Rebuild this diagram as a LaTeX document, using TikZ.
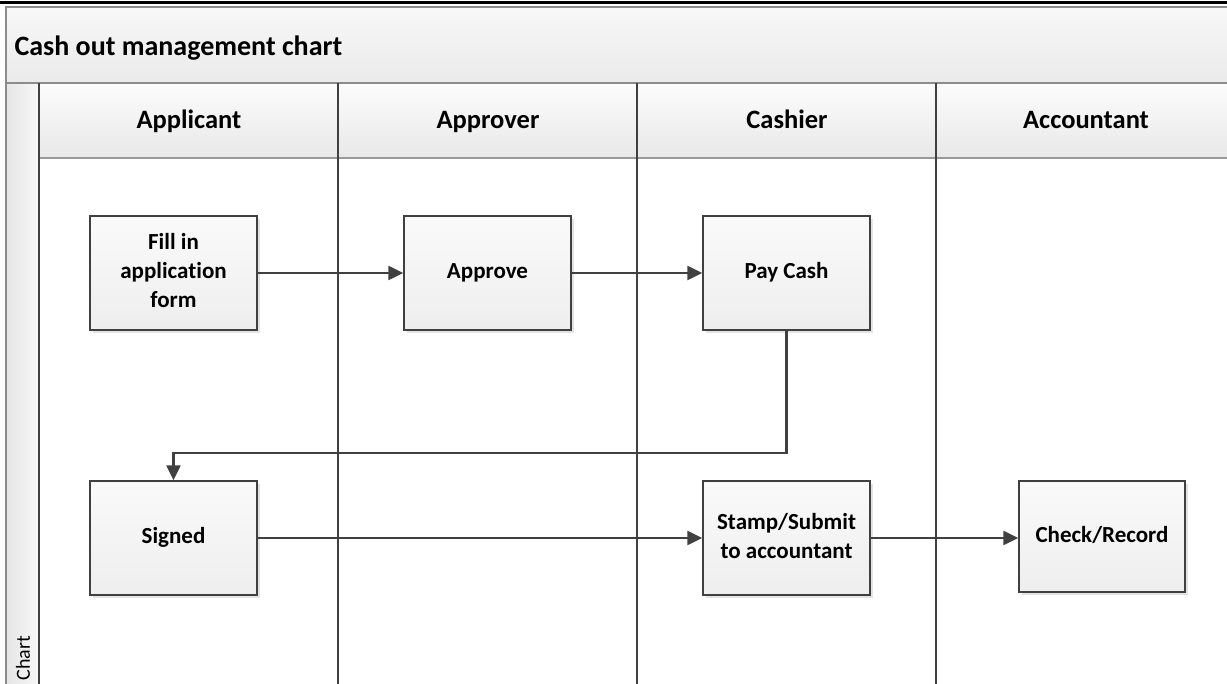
\documentclass[tikz,border=0pt]{standalone}
\usepackage{fontspec}
\setmainfont{Carlito}[Ligatures=NoCommon]
\usetikzlibrary{arrows.meta,shadows}
\definecolor{lanec}{HTML}{404040}
\definecolor{bandc}{HTML}{8C8C8C}
\definecolor{shc}{HTML}{E3E3E3}
\definecolor{boxtop}{HTML}{FAFAFA}
\definecolor{boxbot}{HTML}{EEEEEE}
\tikzset{
  laneline/.style={draw=lanec, line width=2pt},
  procbox/.style={draw=lanec, line width=1.3pt, top color=boxtop, bottom color=boxbot,
    minimum width=167pt, minimum height=114pt, align=center, inner sep=2pt,
    font=\bfseries\fontsize{23}{29}\selectfont,
    drop shadow={shadow xshift=3pt, shadow yshift=-3pt, fill=shc, draw=none, opacity=1}},
  headtext/.style={anchor=base, font=\bfseries\fontsize{26.5}{30}\selectfont},
  flow/.style={draw=lanec, line width=2.2pt, -{Triangle[length=15pt, width=14pt]}}
}
\begin{document}
\begin{tikzpicture}[x=1pt,y=-1pt]
\useasboundingbox (0,0) rectangle (1227,684);
% title band
\shade[top color=white!97!black, bottom color=white!92!black] (6,7) rectangle (1240,83);
\draw[bandc, line width=1.3pt] (1240,7) -- (6,7) -- (6,684);
\draw[black, line width=3pt] (0,3) -- (1227,3);
\node[anchor=base west, font=\bfseries\fontsize{28}{32}\selectfont] (title) at (11,56) {Cash out management chart};
% sidebar
\shade[left color=white!90!black, right color=white!97!black] (6,83) rectangle (39,700);
\draw[bandc, line width=1.3pt] (6,83) -- (6,684);
\node[rotate=90, anchor=west, font=\fontsize{20}{24}\selectfont] (side) at (23,684) {Chart};
% header row
\shade[top color=white!99!black, bottom color=white!91!black] (39,83) rectangle (1240,158);
\draw[white!60!black, line width=1.5pt] (39,158) -- (1240,158);
\draw[bandc, line width=1.8pt] (6,83) -- (1240,83);
\node[headtext] (h1) at (189,129) {Applicant};
\node[headtext] (h2) at (488,129) {Approver};
\node[headtext] (h3) at (787,129) {Cashier};
\node[headtext] (h4) at (1086,129) {Accountant};
% lane lines
\draw[laneline] (39,83) -- (39,684);
\draw[laneline] (338,83) -- (338,684);
\draw[laneline] (637,83) -- (637,684);
\draw[laneline] (936,83) -- (936,684);
% boxes
\node[procbox] (fill) at (173.5,273) {Fill in\strut\\application\strut\\form\strut};
\node[procbox] (approve) at (487.5,273) {Approve\strut};
\node[procbox] (pay) at (786.5,273) {Pay Cash\strut};
\node[procbox] (signed) at (173.5,538) {Signed\strut};
\node[procbox] (stamp) at (786.5,538) {Stamp/Submit\strut\\to accountant\strut};
\node[procbox, minimum width=166pt, minimum height=111pt] (check) at (1102,536.5) {Check/Record\strut};
% connectors
\coordinate (bend) at (0,453);
\draw[flow] (fill) -- (approve);
\draw[flow] (approve) -- (pay);
\draw[flow] (pay.south) -- (pay.south |- bend) -| (signed.north);
\draw[flow] (signed) -- (stamp);
\draw[flow] (stamp.east) -- (stamp.east -| check.west);
\end{tikzpicture}
\end{document}
